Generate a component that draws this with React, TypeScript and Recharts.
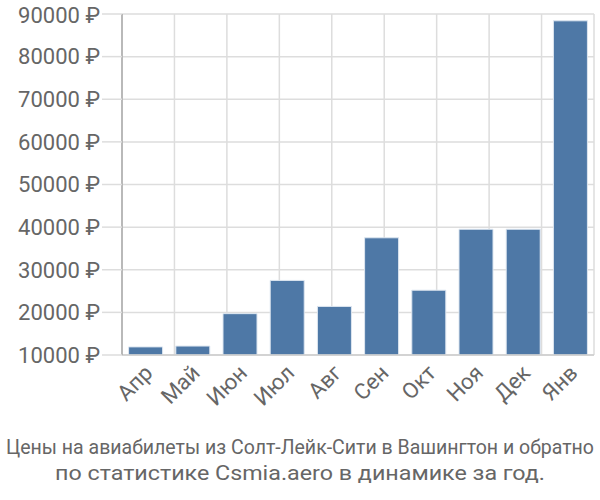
import React from 'react';
import { BarChart, Bar, XAxis, YAxis, CartesianGrid } from 'recharts';

const months = ['Апр', 'Май', 'Июн', 'Июл', 'Авг', 'Сен', 'Окт', 'Ноя', 'Дек', 'Янв'];
const prices = [11900, 12100, 19700, 27500, 21400, 37500, 25200, 39500, 39500, 88400];
const yTicks = [10000, 20000, 30000, 40000, 50000, 60000, 70000, 80000, 90000];
const gridTicks = [0, 1, 2, 3, 4, 5, 6, 7, 8, 9, 10];
const titleLines = [
  'Цены на авиабилеты из Солт-Лейк-Сити в Вашингтон и обратно',
  'по статистике Csmia.aero в динамике за год.',
];
const titleSizes = [19.6, 21];
const titleWidths = [588, 490];

const data = months.map((m, i) => ({ month: m, price: prices[i] }));

const FONT = 'Roboto, "Liberation Sans", sans-serif';

const MonthTick = (props: any) => {
  const { x, y, payload } = props;
  return (
    <text
      x={x}
      y={y}
      dx={-2}
      dy={14}
      textAnchor="end"
      fill="#666"
      fontSize={22}
      fontFamily={FONT}
      transform={`rotate(-45 ${x} ${y})`}
    >
      {payload.value}
    </text>
  );
};

const App: React.FC = () => {
  return (
    <div style={{ position: 'relative', width: 600, height: 500, background: '#fff' }}>
      <style>{'body{margin:0}'}</style>
      <BarChart
        width={600}
        height={500}
        data={data}
        margin={{ top: 14, right: 6, bottom: 80, left: 0 }}
        barCategoryGap="14%"
      >
        <CartesianGrid stroke="#dddddd" strokeWidth={1.5} xAxisId="grid" />
        <XAxis
          xAxisId="grid"
          type="number"
          domain={[0, 10]}
          ticks={gridTicks}
          height={0}
          axisLine={false}
          tickSize={20}
          tickLine={{ stroke: '#dddddd', strokeWidth: 1.5 }}
          tickFormatter={() => ''}
        />
        <XAxis
          dataKey="month"
          height={65}
          axisLine={{ stroke: '#cccccc', strokeWidth: 1.5 }}
          tickLine={false}
          tick={<MonthTick />}
          interval={0}
        />
        <YAxis
          domain={[10000, 90000]}
          ticks={yTicks}
          width={122}
          tickSize={20}
          tickMargin={2}
          axisLine={{ stroke: '#aaaaaa', strokeWidth: 1.5 }}
          tickLine={{ stroke: '#dddddd', strokeWidth: 1.5 }}
          tick={{ fill: '#666', fontSize: 22, fontFamily: FONT }}
          tickFormatter={(v: number) => `${v} ₽`}
          allowDataOverflow
        />
        <Bar dataKey="price" fill="#4e78a6" stroke="#dde6f0" strokeWidth={1} isAnimationActive={false} />
      </BarChart>
      <svg
        width={600}
        height={70}
        style={{ position: 'absolute', top: 430, left: 0 }}
      >
        {titleLines.map((t, i) => (
          <text
            key={t}
            x={300}
            y={24 + i * 26}
            textAnchor="middle"
            fill="#666"
            fontSize={titleSizes[i]}
            fontFamily={FONT}
            textLength={titleWidths[i]}
            lengthAdjust="spacingAndGlyphs"
          >
            {t}
          </text>
        ))}
      </svg>
    </div>
  );
};

export default App;
